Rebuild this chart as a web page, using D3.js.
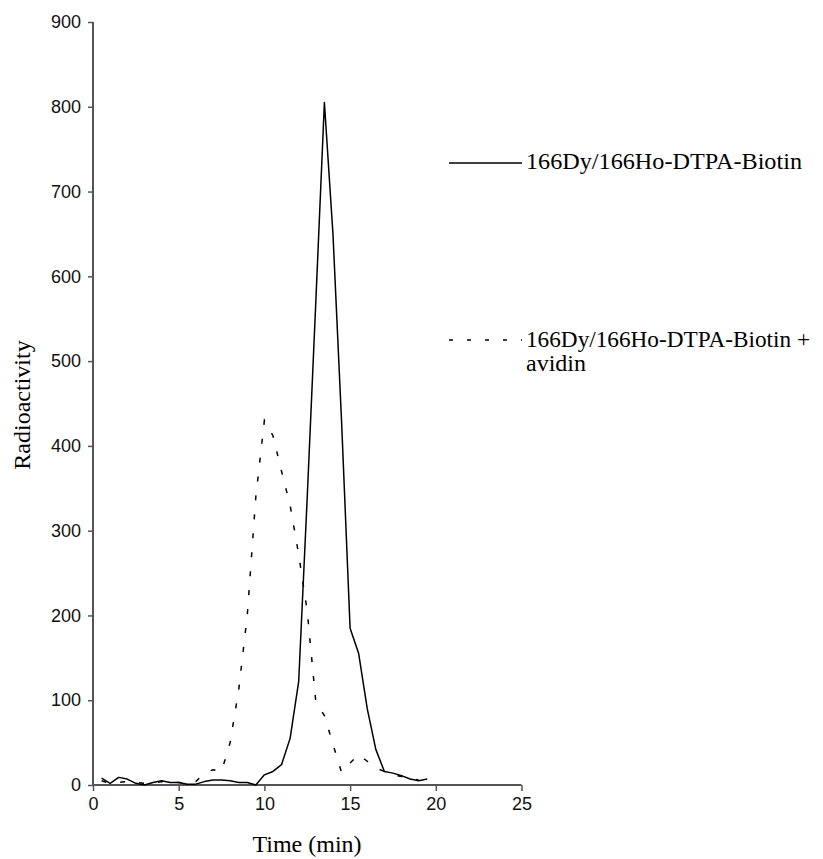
<!DOCTYPE html>
<html>
<head>
<meta charset="utf-8">
<script src="https://cdn.jsdelivr.net/npm/d3@7"></script>
<style>
  html, body { margin: 0; padding: 0; background: #fff; }
  svg { display: block; }
</style>
</head>
<body>
<svg id="chart" width="823" height="859"></svg>
<script>
// Elution time points (min)
const time = [0.5, 1.0, 1.5, 2.0, 2.5, 3.0, 3.5, 4.0, 4.5, 5.0, 5.5, 6.0, 6.5, 7.0, 7.5,
  8.0, 8.5, 9.0, 9.5, 10.0, 10.5, 11.0, 11.5, 12.0, 12.5, 13.0, 13.5, 14.0, 14.5, 15.0,
  15.5, 16.0, 16.5, 17.0, 17.5, 18.0, 18.5, 19.0, 19.5];

// 166Dy/166Ho-DTPA-Biotin alone
const biotin = [8, 2, 9, 7, 2, 0, 3, 5, 3, 3, 1, 1, 4, 6, 6,
  5, 3, 3, 0, 12, 16, 24, 55, 122, 340, 570, 805, 650, 430, 185,
  155, 90, 42, 16, 14, 11, 7, 5, 7];

// 166Dy/166Ho-DTPA-Biotin + avidin
const avidin = [5, 2, 3, 4, 3, 2, 2, 4, 3, 3, 2, 4, 14, 18, 16,
  50, 112, 200, 340, 430, 412, 370, 330, 272, 205, 98, 82, 48, 15, 26,
  36, 28, 20, 16, 12, 10, 8, 6];

const xTicks = [0, 5, 10, 15, 20, 25];
const yTicks = [0, 100, 200, 300, 400, 500, 600, 700, 800, 900];

const seriesNames = ["166Dy/166Ho-DTPA-Biotin", "166Dy/166Ho-DTPA-Biotin +", "avidin"];

const svg = d3.select("#chart");
const serif = "'Liberation Serif', 'Times New Roman', serif";
const sans = "'Liberation Sans', Arial, sans-serif";
const axisColor = "#555";

const x = d3.scaleLinear().domain([0, 25]).range([93, 521.5]);
const y = d3.scaleLinear().domain([0, 900]).range([785, 22]);

// Axes
const xAxis = svg.append("g")
  .attr("transform", `translate(0,${y(0)})`)
  .call(d3.axisBottom(x).tickValues(xTicks).tickSize(6).tickPadding(6).tickFormat(d3.format("d")));
const yAxis = svg.append("g")
  .attr("transform", `translate(${x(0)},0)`)
  .call(d3.axisLeft(y).tickValues(yTicks).tickSize(5).tickPadding(7).tickFormat(d3.format("d")));

[xAxis, yAxis].forEach(g => {
  g.select(".domain").attr("stroke", axisColor).attr("stroke-width", 2);
  g.selectAll(".tick line").attr("stroke", axisColor).attr("stroke-width", 1.5);
  g.selectAll(".tick text")
    .attr("fill", "#111")
    .style("font-family", sans)
    .style("font-size", "18px");
});
xAxis.selectAll(".domain").attr("d", `M${x(0)},0H${x(25)}`);
yAxis.selectAll(".domain").attr("d", `M0,${y(0)}V${y(900)}`);

// Traces
const rows = (vals) => vals.map((v, i) => ({ t: time[i], v }));
const line = d3.line().x(d => x(d.t)).y(d => y(d.v));

svg.append("path")
  .datum(rows(avidin))
  .attr("d", line)
  .attr("fill", "none")
  .attr("stroke", "#000")
  .attr("stroke-width", 1.5)
  .attr("stroke-dasharray", "5,14");

svg.append("path")
  .datum(rows(biotin))
  .attr("d", line)
  .attr("fill", "none")
  .attr("stroke", "#000")
  .attr("stroke-width", 1.5)
  .attr("stroke-linejoin", "round");

// Axis titles
svg.append("text")
  .attr("x", 307).attr("y", 852)
  .attr("text-anchor", "middle")
  .style("font-family", serif).style("font-size", "24px")
  .text("Time (min)");

svg.append("text")
  .attr("transform", "translate(30,405) rotate(-90)")
  .attr("text-anchor", "middle")
  .style("font-family", serif).style("font-size", "24px")
  .text("Radioactivity");

// Legend
const legend = svg.append("g");
legend.append("line")
  .attr("x1", 449).attr("x2", 522).attr("y1", 163).attr("y2", 163)
  .attr("stroke", "#000").attr("stroke-width", 1.5);
legend.append("text")
  .attr("x", 526).attr("y", 169)
  .attr("textLength", 276).attr("lengthAdjust", "spacingAndGlyphs")
  .style("font-family", serif).style("font-size", "24px")
  .text(seriesNames[0]);

legend.append("line")
  .attr("x1", 449).attr("x2", 522).attr("y1", 340).attr("y2", 340)
  .attr("stroke", "#000").attr("stroke-width", 1.5)
  .attr("stroke-dasharray", "4,14");
legend.append("text")
  .attr("x", 526).attr("y", 347)
  .attr("textLength", 284).attr("lengthAdjust", "spacingAndGlyphs")
  .style("font-family", serif).style("font-size", "24px")
  .text(seriesNames[1]);
legend.append("text")
  .attr("x", 526).attr("y", 371)
  .style("font-family", serif).style("font-size", "24px")
  .text(seriesNames[2]);
</script>
</body>
</html>
